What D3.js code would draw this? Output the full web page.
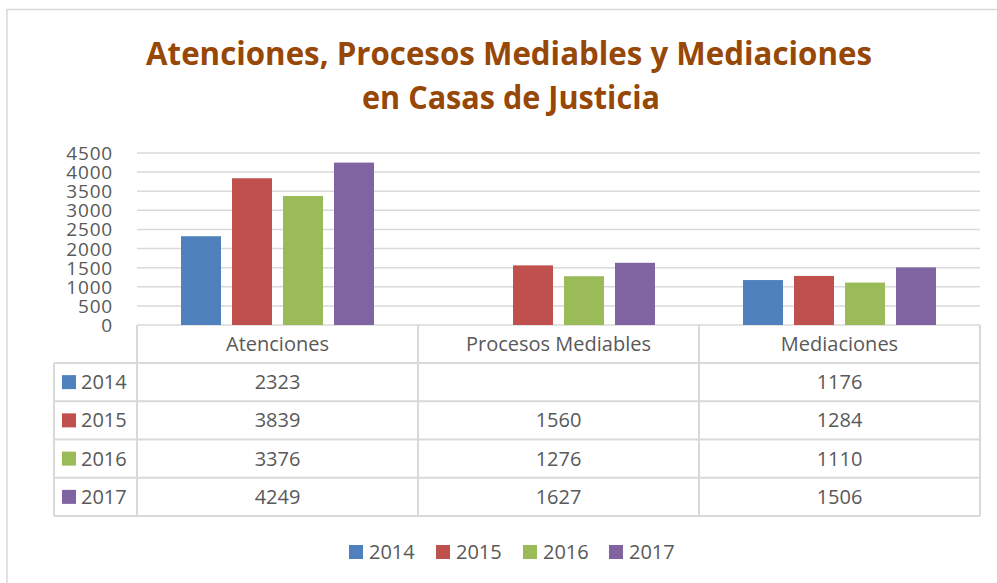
<!DOCTYPE html>
<html><head><meta charset="utf-8">
<script src="https://cdn.jsdelivr.net/npm/d3@7"></script>
<style>
html,body{margin:0;padding:0;background:#fff;}
svg{display:block;font-family:"Open Sans",sans-serif;}
</style></head>
<body>
<script>
const categories = ["Atenciones", "Procesos Mediables", "Mediaciones"];
const years = ["2014", "2015", "2016", "2017"];
const v2014 = [2323, null, 1176];
const v2015 = [3839, 1560, 1284];
const v2016 = [3376, 1276, 1110];
const v2017 = [4249, 1627, 1506];
const seriesValues = [v2014, v2015, v2016, v2017];
const colors = ["#4F81BD", "#C0504D", "#9BBB59", "#8064A2"];
const yTicks = [0, 500, 1000, 1500, 2000, 2500, 3000, 3500, 4000, 4500];
const titleLines = ["Atenciones, Procesos Mediables y Mediaciones", "en Casas de Justicia"];

(function () {
const W = 997, H = 583;
const svg = d3.select("body").append("svg").attr("width", W).attr("height", H);
const grid = "#D9D9D9", txt = "#595959";

// outer border
svg.append("path").attr("d", `M7,${H} V9.5 H${W}`).attr("fill", "none")
  .attr("stroke", grid).attr("stroke-width", 1.5);

// title
svg.append("text").attr("x", 509).attr("y", 65).attr("text-anchor", "middle")
  .attr("font-size", 32).attr("font-weight", "bold").attr("fill", "#974706")
  .attr("textLength", 726).attr("lengthAdjust", "spacingAndGlyphs").text(titleLines[0]);
svg.append("text").attr("x", 511).attr("y", 109).attr("text-anchor", "middle")
  .attr("font-size", 32).attr("font-weight", "bold").attr("fill", "#974706")
  .attr("textLength", 298).attr("lengthAdjust", "spacingAndGlyphs").text(titleLines[1]);

const pLeft = 137, pRight = 980, pTop = 153, pBottom = 325;
const x0 = d3.scaleBand().domain(categories).range([pLeft, pRight]).padding(0);
const x1 = d3.scaleBand().domain(years).range([0, x0.bandwidth()]).paddingInner(0.216).paddingOuter(0.863);
const y = d3.scaleLinear().domain([0, 4500]).range([pBottom, pTop]);

// gridlines
svg.append("g").selectAll("line").data(yTicks).join("line")
  .attr("x1", pLeft).attr("x2", pRight)
  .attr("y1", d => y(d)).attr("y2", d => y(d))
  .attr("stroke", grid).attr("stroke-width", 1.5);

// y axis labels
const yAxis = d3.axisLeft(y).tickValues(yTicks).tickSize(0).tickPadding(0).tickFormat(d3.format("d"));
const ya = svg.append("g").attr("transform", "translate(113,0)").call(yAxis);
ya.select(".domain").remove();
ya.selectAll("text").attr("font-size", 19).attr("fill", txt).attr("font-family", "'Open Sans',sans-serif")
  .attr("dy", "0.34em").attr("letter-spacing", 0.8);

// bars
years.forEach((yr, i) => {
  svg.append("g").selectAll("rect")
    .data(categories.map((c, j) => ({c, v: seriesValues[i][j]})).filter(d => d.v != null))
    .join("rect")
    .attr("x", d => x0(d.c) + x1(yr))
    .attr("width", x1.bandwidth())
    .attr("y", d => y(d.v))
    .attr("height", d => y(0) - y(d.v))
    .attr("fill", colors[i]);
});

// data table
const rowTop = 325, headH = 38, rowH = 38.25;
const tLeft = 54;
const rowsY = d3.range(5).map(k => rowTop + headH + k * rowH);
const tg = svg.append("g");
rowsY.forEach(yy => tg.append("line").attr("x1", tLeft).attr("x2", pRight).attr("y1", yy).attr("y2", yy)
  .attr("stroke", grid).attr("stroke-width", 2));
tg.append("line").attr("x1", tLeft).attr("x2", tLeft).attr("y1", rowsY[0]).attr("y2", rowsY[4]).attr("stroke", grid).attr("stroke-width", 2);
[pLeft, ...categories.map(c => x0(c) + x0.bandwidth())].forEach(xx =>
  tg.append("line").attr("x1", xx).attr("x2", xx).attr("y1", rowTop).attr("y2", rowsY[4]).attr("stroke", grid).attr("stroke-width", 2));

categories.forEach(c => tg.append("text").attr("x", x0(c) + x0.bandwidth() / 2).attr("y", rowTop + 26)
  .attr("text-anchor", "middle").attr("font-size", 20).attr("fill", txt).text(c));

years.forEach((yr, i) => {
  const cy = rowsY[i] + rowH / 2;
  tg.append("rect").attr("x", 62).attr("y", cy - 7).attr("width", 14).attr("height", 14).attr("fill", colors[i]);
  tg.append("text").attr("x", 81).attr("y", cy + 7).attr("font-size", 20).attr("fill", txt).text(yr);
  categories.forEach((c, j) => {
    const v = seriesValues[i][j];
    if (v != null) tg.append("text").attr("x", x0(c) + x0.bandwidth() / 2).attr("y", cy + 7)
      .attr("text-anchor", "middle").attr("font-size", 20).attr("fill", txt).text(v);
  });
});

// legend
const legX = [349, 436, 523, 609];
const lg = svg.append("g");
years.forEach((yr, i) => {
  lg.append("rect").attr("x", legX[i]).attr("y", 545).attr("width", 14).attr("height", 14).attr("fill", colors[i]);
  lg.append("text").attr("x", legX[i] + 20).attr("y", 559).attr("font-size", 20).attr("fill", txt).text(yr);
});
})();
</script>
</body></html>
